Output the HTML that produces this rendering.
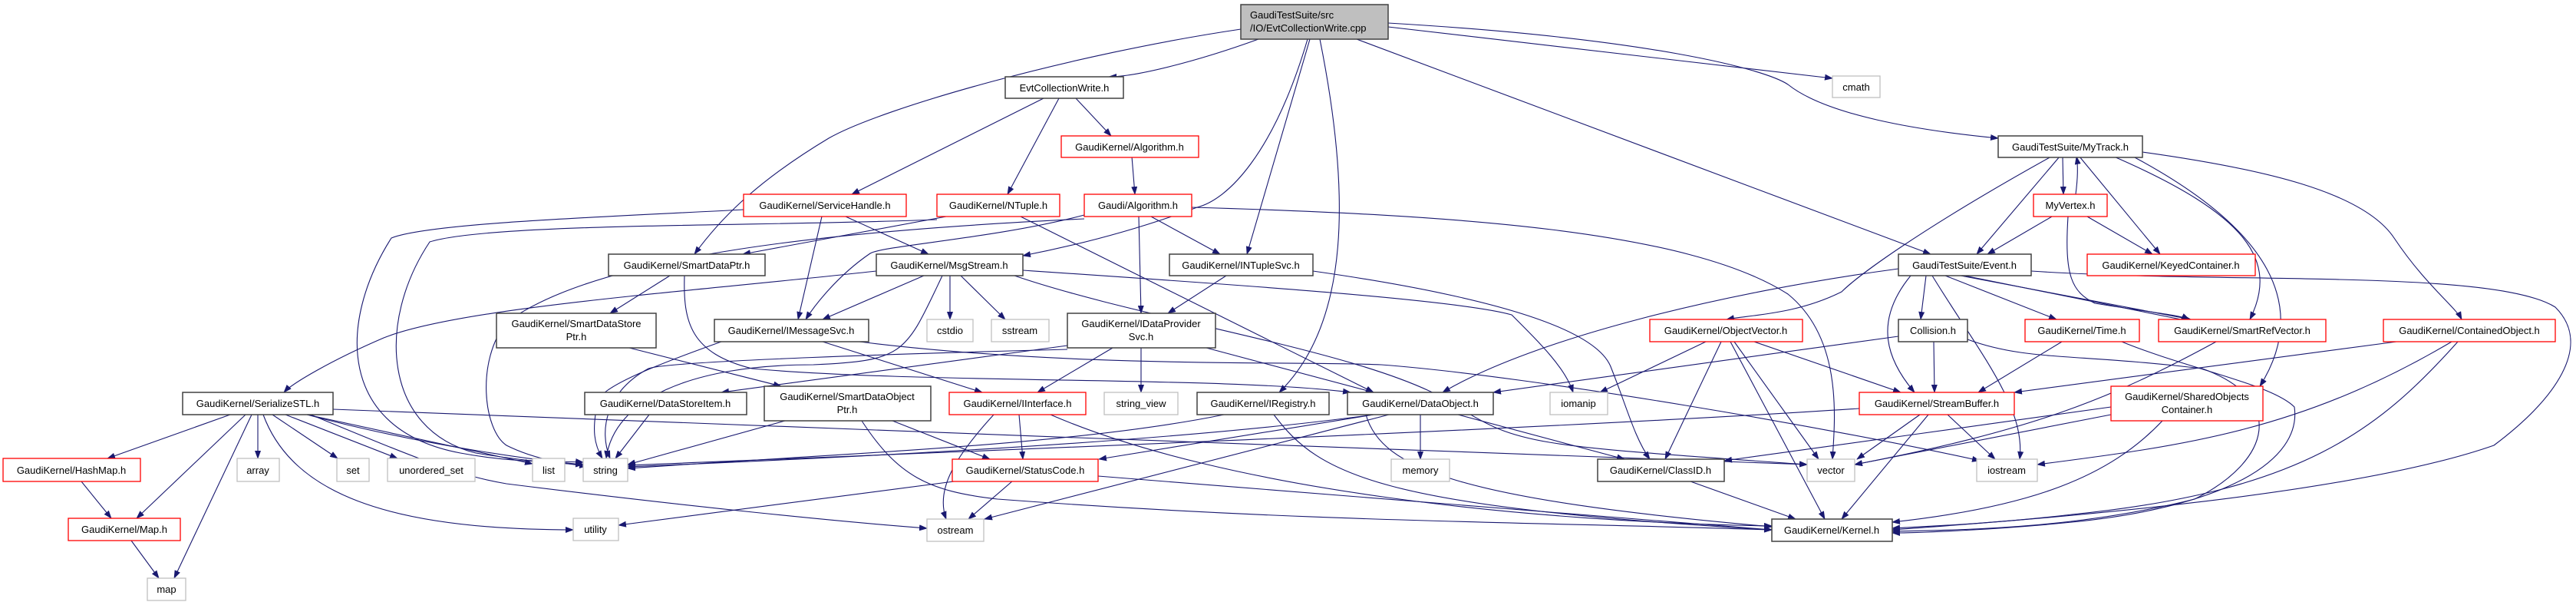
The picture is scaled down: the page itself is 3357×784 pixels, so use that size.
<!DOCTYPE html>
<html><head><meta charset="utf-8"><style>
html,body{margin:0;padding:0;background:#fff;}
svg{display:block;}
text{font-family:"Liberation Sans",sans-serif;font-size:13px;fill:#000;}
.b{fill:#fff;stroke:#404040;stroke-width:1.5;}
.r{fill:#fff;stroke:#ff0000;stroke-width:1.3;}
.g{fill:#fff;stroke:#bfbfbf;stroke-width:1.3;}
.m{fill:#bfbfbf;stroke:#404040;stroke-width:1.5;}
path{fill:none;stroke:#191970;stroke-width:1.1;marker-end:url(#a);}
</style></head><body>
<svg width="3357" height="784" viewBox="0 0 3357 784" xmlns="http://www.w3.org/2000/svg">
<defs><marker id="a" markerWidth="11" markerHeight="8" refX="10" refY="4" orient="auto" markerUnits="userSpaceOnUse"><polygon points="0,0 11,4 0,8" fill="#191970"/></marker></defs>
<g>
<!-- main -->
<path d="M1630,51 L1464,114 L1464,114" style="display:none"/>
<path d="M1640,51 C1560,80 1480,100 1445,100"/>
<path d="M1617,38 C1400,70 1150,140 1080,180 C980,240 935,290 905,331"/>
<path d="M1704,51 C1660,200 1600,260 1560,270 C1480,300 1400,320 1333,333"/>
<path d="M1707,51 L1625,331"/>
<path d="M1720,51 C1760,250 1760,420 1667,511"/>
<path d="M1768,51 L2516,331"/>
<path d="M1809,35 C2100,70 2300,90 2388,102"/>
<path d="M1809,30 C2150,50 2300,90 2330,110 C2380,150 2500,170 2604,180"/>
<!-- EvtCollectionWrite -->
<path d="M1360,128 L1110,253"/>
<path d="M1380,128 L1313,253"/>
<path d="M1402,128 L1448,177"/>
<path d="M1475,204 L1479,253"/>
<!-- ServiceHandle -->
<path d="M1102,282 L1210,331"/>
<path d="M1071,282 L1040,416"/>
<path d="M969,273 C800,282 560,290 510,310 C440,420 440,560 600,590 C680,605 740,600 760,602"/>
<!-- NTuple -->
<path d="M1233,282 L968,331"/>
<path d="M1330,282 L1790,511"/>
<path d="M1221,286 C1000,295 640,290 560,315 C490,420 500,560 620,590 C700,603 740,604 760,605"/>
<!-- Gaudi/Algorithm -->
<path d="M1413,280 C1300,310 1150,320 1134,330 C1090,360 1060,400 1050,416"/>
<path d="M1484,282 L1487,408"/>
<path d="M1500,282 L1590,331"/>
<path d="M1553,270 C1900,280 2200,300 2330,383 C2400,440 2392,540 2388,598"/>
<path d="M1413,285 C1100,300 780,330 660,420 C620,470 630,560 660,580 C700,600 745,605 765,607"/>
<!-- SmartDataPtr -->
<path d="M873,359 L795,408"/>
<path d="M892,359 C890,420 900,460 980,480 C1200,500 1600,490 1760,511"/>
<!-- MsgStream -->
<path d="M1142,353 C900,380 600,400 500,440 C430,470 380,500 370,511"/>
<path d="M1204,359 L1072,416"/>
<path d="M1238,359 L1238,416"/>
<path d="M1252,359 L1310,416"/>
<path d="M1228,359 C1180,460 1180,470 1060,475 C900,475 800,520 790,597"/>
<path d="M1333,352 C1600,370 1900,390 1970,410 C2010,450 2040,480 2050,511"/>
<path d="M1322,359 C1500,420 1800,460 1900,530 C1980,580 2000,580 2355,605"/>
<!-- IMessageSvc -->
<path d="M1072,445 L1280,511"/>
<path d="M940,445 C870,470 790,500 780,520 C770,560 775,580 785,597"/>
<path d="M1120,445 C1400,480 1700,470 1800,475 C2000,490 2400,560 2580,600"/>
<!-- IDataProviderSvc -->
<path d="M1391,450 L940,511"/>
<path d="M1450,453 L1352,511"/>
<path d="M1487,453 L1487,511"/>
<path d="M1572,453 L1790,511"/>
<path d="M1391,455 C1200,460 870,470 845,480 C790,510 780,560 795,597"/>
<!-- SmartDataStorePtr -->
<path d="M820,453 L1018,503"/>
<!-- INTupleSvc -->
<path d="M1711,353 C1900,380 2080,420 2100,480 C2120,530 2130,570 2150,598"/>
<path d="M1598,359 L1522,408"/>
<!-- IRegistry -->
<path d="M1595,540 C1400,580 1100,590 818,610"/>
<path d="M1660,540 C1720,620 1800,660 2309,690"/>
<!-- SerializeSTL -->
<path d="M300,540 L140,597"/>
<path d="M320,540 L178,675"/>
<path d="M328,540 L227,753"/>
<path d="M336,540 L336,597"/>
<path d="M355,540 L440,597"/>
<path d="M372,540 L518,597"/>
<path d="M400,540 L694,604"/>
<path d="M400,540 C550,580 700,600 760,605"/>
<path d="M343,540 C380,640 500,690 747,690"/>
<path d="M405,540 C550,600 600,620 660,630 C900,660 1100,680 1208,688"/>
<path d="M434,533 C1000,560 1800,580 2355,605"/>
<!-- HashMap, Map -->
<path d="M106,627 L145,675"/>
<path d="M171,704 L207,753"/>
<!-- DataStoreItem -->
<path d="M846,540 L802,597"/>
<!-- SmartDataObjectPtr -->
<path d="M1023,548 L818,605"/>
<path d="M1163,548 L1290,598"/>
<path d="M1123,548 C1170,620 1210,640 1300,650 C1700,680 2000,680 2309,690"/>
<!-- IInterface -->
<path d="M1295,540 C1240,600 1220,640 1233,676"/>
<path d="M1328,540 L1333,598"/>
<path d="M1369,540 C1600,640 2000,680 2309,685"/>
<!-- StatusCode -->
<path d="M1243,627 L806,684"/>
<path d="M1320,626 L1262,676"/>
<path d="M1431,620 L2309,690"/>
<!-- DataObject -->
<path d="M1790,540 C1500,580 1000,600 818,608"/>
<path d="M1790,540 L1432,598"/>
<path d="M1810,540 L1283,676"/>
<path d="M1851,540 L1851,598"/>
<path d="M1900,540 L2117,598"/>
<path d="M1780,540 C1800,610 1900,650 2309,686"/>
<!-- Event -->
<path d="M2474,350 C2250,380 2000,440 1880,511"/>
<path d="M2510,359 L2503,416"/>
<path d="M2535,359 L2680,416"/>
<path d="M2555,359 L2855,416"/>
<path d="M2560,359 L2852,418"/>
<path d="M2490,359 C2440,420 2460,470 2495,511"/>
<path d="M2518,359 C2580,460 2640,530 2632,598"/>
<path d="M2647,353 C2900,370 3250,350 3330,400 C3380,450 3330,520 3250,580 C3050,650 2600,680 2466,690"/>
<!-- Collision -->
<path d="M2474,438 L1946,511"/>
<path d="M2520,445 L2521,511"/>
<path d="M2564,442 C2640,470 2700,460 2870,480 C2980,520 2960,600 2860,650 C2700,690 2550,690 2466,692"/>
<!-- Time -->
<path d="M2687,445 L2578,511"/>
<path d="M2765,445 C2850,480 2960,500 2990,530 C3000,600 2900,660 2700,680 C2600,690 2500,694 2466,694"/>
<!-- SmartRefVector -->
<path d="M2888,445 C2750,520 2650,560 2417,605"/>
<!-- ContainedObject -->
<path d="M3123,445 L2625,511"/>
<path d="M3195,445 C3000,560 2850,580 2655,605"/>
<path d="M3203,445 C3100,560 3000,640 2700,670 C2600,682 2500,686 2466,688"/>
<!-- SharedObjectsContainer -->
<path d="M2751,540 L2417,605"/>
<path d="M2751,530 C2600,550 2400,580 2247,600"/>
<path d="M2818,548 C2750,620 2650,660 2466,680"/>
<!-- StreamBuffer -->
<path d="M2502,540 L2420,598"/>
<path d="M2513,540 L2400,676"/>
<path d="M2538,540 L2600,598"/>
<path d="M2423,532 C2000,560 1200,590 818,606"/>
<!-- ObjectVector -->
<path d="M2223,445 L2085,511"/>
<path d="M2243,445 L2170,598"/>
<path d="M2260,445 L2370,598"/>
<path d="M2255,445 L2378,676"/>
<path d="M2286,445 L2477,511"/>
<!-- ClassID -->
<path d="M2203,627 L2340,676"/>
<!-- MyTrack -->
<path d="M2688,204 L2689,253"/>
<path d="M2684,204 L2576,331"/>
<path d="M2710,204 L2815,331"/>
<path d="M2673,204 C2500,300 2420,360 2400,380 C2340,410 2280,410 2250,416"/>
<path d="M2755,204 C2930,280 2970,340 2932,416"/>
<path d="M2780,204 C2960,300 3010,400 2945,503"/>
<path d="M2792,198 C2950,220 3080,250 3120,310 C3160,370 3200,400 3208,416"/>
<!-- MyVertex -->
<path d="M2705,253 C2708,230 2708,215 2706,204"/>
<path d="M2674,282 L2590,331"/>
<path d="M2720,282 L2805,331"/>
<path d="M2695,282 C2690,360 2700,380 2730,395 C2790,405 2840,410 2853,416"/>
</g>
<g>
<rect class="m" x="1617" y="6" width="192" height="45"/>
<text x="1629" y="24">GaudiTestSuite/src</text><text x="1629" y="41">/IO/EvtCollectionWrite.cpp</text>
<rect class="b" x="1310" y="100" width="154" height="28"/><text x="1387" y="119" text-anchor="middle">EvtCollectionWrite.h</text>
<rect class="g" x="2388" y="99" width="62" height="28"/><text x="2419" y="118" text-anchor="middle">cmath</text>
<rect class="r" x="1383" y="177" width="179" height="28"/><text x="1472" y="196" text-anchor="middle">GaudiKernel/Algorithm.h</text>
<rect class="b" x="2604" y="177" width="188" height="28"/><text x="2698" y="196" text-anchor="middle">GaudiTestSuite/MyTrack.h</text>
<rect class="r" x="969" y="253" width="212" height="29"/><text x="1075" y="272" text-anchor="middle">GaudiKernel/ServiceHandle.h</text>
<rect class="r" x="1221" y="253" width="160" height="29"/><text x="1301" y="272" text-anchor="middle">GaudiKernel/NTuple.h</text>
<rect class="r" x="1413" y="253" width="140" height="29"/><text x="1483" y="272" text-anchor="middle">Gaudi/Algorithm.h</text>
<rect class="r" x="2650" y="253" width="96" height="29"/><text x="2698" y="272" text-anchor="middle">MyVertex.h</text>
<rect class="b" x="793" y="331" width="204" height="28"/><text x="895" y="350" text-anchor="middle">GaudiKernel/SmartDataPtr.h</text>
<rect class="b" x="1142" y="331" width="191" height="28"/><text x="1237" y="350" text-anchor="middle">GaudiKernel/MsgStream.h</text>
<rect class="b" x="1524" y="331" width="187" height="28"/><text x="1617" y="350" text-anchor="middle">GaudiKernel/INTupleSvc.h</text>
<rect class="b" x="2474" y="331" width="173" height="28"/><text x="2560" y="350" text-anchor="middle">GaudiTestSuite/Event.h</text>
<rect class="r" x="2720" y="331" width="219" height="28"/><text x="2829" y="350" text-anchor="middle">GaudiKernel/KeyedContainer.h</text>
<rect class="b" x="647" y="408" width="208" height="45"/><text x="751" y="426" text-anchor="middle">GaudiKernel/SmartDataStore</text><text x="751" y="443" text-anchor="middle">Ptr.h</text>
<rect class="b" x="931" y="416" width="201" height="29"/><text x="1031" y="435" text-anchor="middle">GaudiKernel/IMessageSvc.h</text>
<rect class="g" x="1208" y="416" width="60" height="29"/><text x="1238" y="435" text-anchor="middle">cstdio</text>
<rect class="g" x="1292" y="416" width="75" height="29"/><text x="1329" y="435" text-anchor="middle">sstream</text>
<rect class="b" x="1391" y="408" width="193" height="45"/><text x="1487" y="426" text-anchor="middle">GaudiKernel/IDataProvider</text><text x="1487" y="443" text-anchor="middle">Svc.h</text>
<rect class="r" x="2150" y="416" width="199" height="29"/><text x="2249" y="435" text-anchor="middle">GaudiKernel/ObjectVector.h</text>
<rect class="b" x="2474" y="416" width="90" height="29"/><text x="2519" y="435" text-anchor="middle">Collision.h</text>
<rect class="r" x="2639" y="416" width="149" height="29"/><text x="2713" y="435" text-anchor="middle">GaudiKernel/Time.h</text>
<rect class="r" x="2813" y="416" width="218" height="29"/><text x="2922" y="435" text-anchor="middle">GaudiKernel/SmartRefVector.h</text>
<rect class="r" x="3106" y="416" width="224" height="29"/><text x="3218" y="435" text-anchor="middle">GaudiKernel/ContainedObject.h</text>
<rect class="b" x="238" y="511" width="196" height="29"/><text x="336" y="530" text-anchor="middle">GaudiKernel/SerializeSTL.h</text>
<rect class="b" x="762" y="511" width="211" height="29"/><text x="867" y="530" text-anchor="middle">GaudiKernel/DataStoreItem.h</text>
<rect class="b" x="996" y="503" width="217" height="45"/><text x="1104" y="521" text-anchor="middle">GaudiKernel/SmartDataObject</text><text x="1104" y="538" text-anchor="middle">Ptr.h</text>
<rect class="r" x="1237" y="511" width="178" height="29"/><text x="1326" y="530" text-anchor="middle">GaudiKernel/IInterface.h</text>
<rect class="g" x="1439" y="511" width="96" height="29"/><text x="1487" y="530" text-anchor="middle">string_view</text>
<rect class="b" x="1560" y="511" width="172" height="29"/><text x="1646" y="530" text-anchor="middle">GaudiKernel/IRegistry.h</text>
<rect class="b" x="1756" y="511" width="190" height="29"/><text x="1851" y="530" text-anchor="middle">GaudiKernel/DataObject.h</text>
<rect class="g" x="2020" y="511" width="75" height="29"/><text x="2057" y="530" text-anchor="middle">iomanip</text>
<rect class="r" x="2423" y="511" width="202" height="29"/><text x="2524" y="530" text-anchor="middle">GaudiKernel/StreamBuffer.h</text>
<rect class="r" x="2751" y="503" width="198" height="45"/><text x="2850" y="521" text-anchor="middle">GaudiKernel/SharedObjects</text><text x="2850" y="538" text-anchor="middle">Container.h</text>
<rect class="r" x="4" y="597" width="179" height="30"/><text x="93" y="617" text-anchor="middle">GaudiKernel/HashMap.h</text>
<rect class="g" x="309" y="597" width="55" height="30"/><text x="336" y="617" text-anchor="middle">array</text>
<rect class="g" x="439" y="597" width="42" height="30"/><text x="460" y="617" text-anchor="middle">set</text>
<rect class="g" x="505" y="597" width="114" height="30"/><text x="562" y="617" text-anchor="middle">unordered_set</text>
<rect class="g" x="694" y="597" width="42" height="30"/><text x="715" y="617" text-anchor="middle">list</text>
<rect class="g" x="760" y="597" width="58" height="30"/><text x="789" y="617" text-anchor="middle">string</text>
<rect class="r" x="1241" y="598" width="190" height="29"/><text x="1336" y="617" text-anchor="middle">GaudiKernel/StatusCode.h</text>
<rect class="g" x="1813" y="598" width="76" height="29"/><text x="1851" y="617" text-anchor="middle">memory</text>
<rect class="b" x="2082" y="598" width="165" height="29"/><text x="2164" y="617" text-anchor="middle">GaudiKernel/ClassID.h</text>
<rect class="g" x="2355" y="598" width="62" height="29"/><text x="2386" y="617" text-anchor="middle">vector</text>
<rect class="g" x="2576" y="598" width="79" height="29"/><text x="2615" y="617" text-anchor="middle">iostream</text>
<rect class="r" x="89" y="675" width="146" height="29"/><text x="162" y="694" text-anchor="middle">GaudiKernel/Map.h</text>
<rect class="g" x="747" y="675" width="59" height="29"/><text x="776" y="694" text-anchor="middle">utility</text>
<rect class="g" x="1208" y="676" width="74" height="29"/><text x="1245" y="695" text-anchor="middle">ostream</text>
<rect class="b" x="2309" y="676" width="157" height="29"/><text x="2387" y="695" text-anchor="middle">GaudiKernel/Kernel.h</text>
<rect class="g" x="192" y="753" width="50" height="29"/><text x="217" y="772" text-anchor="middle">map</text>
</g>
</svg>
</body></html>
